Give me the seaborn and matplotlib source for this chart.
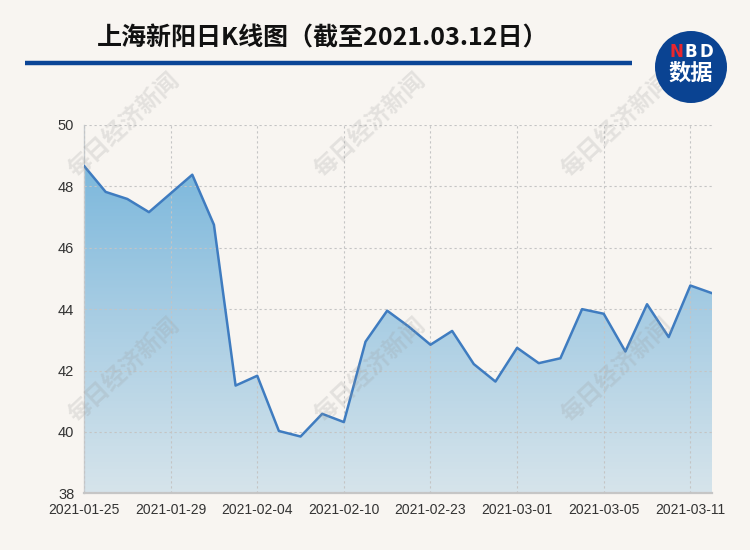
import numpy as np
import pandas as pd
import matplotlib
matplotlib.use("Agg")
import matplotlib.pyplot as plt
import seaborn as sns
from matplotlib.colors import LinearSegmentedColormap
from matplotlib.patches import Circle, Polygon

# ---------------- data ----------------
dates = ['2021-01-25', '2021-01-26', '2021-01-27', '2021-01-28', '2021-01-29',
         '2021-02-01', '2021-02-02', '2021-02-03', '2021-02-04', '2021-02-05',
         '2021-02-08', '2021-02-09', '2021-02-10', '2021-02-18', '2021-02-19',
         '2021-02-22', '2021-02-23', '2021-02-24', '2021-02-25', '2021-02-26',
         '2021-03-01', '2021-03-02', '2021-03-03', '2021-03-04', '2021-03-05',
         '2021-03-08', '2021-03-09', '2021-03-10', '2021-03-11', '2021-03-12']
close = [48.67, 47.82, 47.59, 47.16, 47.77, 48.38, 46.75, 41.51, 41.83, 40.03,
         39.85, 40.59, 40.32, 42.94, 43.95, 43.43, 42.84, 43.29, 42.21, 41.64,
         42.74, 42.24, 42.40, 44.00, 43.85, 42.62, 44.16, 43.09, 44.77, 44.52]
y_ticks = [38, 40, 42, 44, 46, 48, 50]
title = "上海新阳日K线图（截至2021.03.12日）"
watermark = "每日经济新闻"

# ---------------- style ----------------
sns.set_theme(style="white")
plt.rcParams['font.family'] = ['Noto Sans CJK SC', 'DejaVu Sans']
BG = '#f8f5f1'

df = pd.DataFrame({'idx': np.arange(len(dates)), 'date': dates, 'close': close})

fig = plt.figure(figsize=(7.5, 5.5), dpi=100, facecolor=BG)
ax = fig.add_axes([84 / 750, 1 - 493.3 / 550, (712 - 84) / 750, (493.3 - 125) / 550])
ax.set_facecolor(BG)

ymin, ymax = 38, 50
xmax = len(dates) - 1

# gradient fill clipped to the area under the line
cmap = LinearSegmentedColormap.from_list('g', ['#d6e4eb', '#a6cce3', '#70b2da'])
grad = np.linspace(0, 1, 256).reshape(-1, 1)
im = ax.imshow(grad, extent=[0, xmax, ymin, ymax], origin='lower', cmap=cmap,
               aspect='auto', zorder=1)
verts = [(0, ymin)] + list(zip(df['idx'], df['close'])) + [(xmax, ymin)]
poly = Polygon(verts, closed=True, facecolor='none', edgecolor='none')
ax.add_patch(poly)
im.set_clip_path(poly)

sns.lineplot(data=df, x='idx', y='close', ax=ax, color='#3f7cc0', linewidth=1.8,
             zorder=3)

ax.set_xlim(0, xmax)
ax.set_ylim(ymin, ymax)
tick_pos = list(range(0, len(dates), 4))
ax.set_xticks(tick_pos)
ax.set_xticklabels([dates[i] for i in tick_pos])
ax.set_yticks(y_ticks)
ax.set_yticklabels([str(v) for v in y_ticks])
ax.set_xlabel('')
ax.set_ylabel('')
tick_font = ['Liberation Sans Narrow', 'Liberation Sans', 'DejaVu Sans']
for lab in ax.get_xticklabels():
    lab.set_family(tick_font)
    lab.set_fontsize(10)
    lab.set_color('#333333')
for lab in ax.get_yticklabels():
    lab.set_family(tick_font)
    lab.set_fontsize(10.5)
    lab.set_color('#333333')
ax.tick_params(axis='x', length=0, pad=7)
ax.tick_params(axis='y', length=0, pad=7)

ax.grid(True, color='#c4c4c4', linestyle=(0, (2, 2.5)), linewidth=0.8, zorder=2)
ax.set_axisbelow(False)
for gl in ax.get_xgridlines() + ax.get_ygridlines():
    gl.set_zorder(2)
for s in ['top', 'right']:
    ax.spines[s].set_visible(False)
ax.spines['left'].set_color('#c8cdd2')
ax.spines['left'].set_linewidth(1.0)
ax.spines['bottom'].set_color('#c6c6c6')
ax.spines['bottom'].set_linewidth(1.6)

# ---------------- overlay (title, rule, logo, watermarks) ----------------
ov = fig.add_axes([0, 0, 1, 1], facecolor='none')
ov.set_xlim(0, 750)
ov.set_ylim(550, 0)
ov.axis('off')

ov.text(323, 38, title, ha='center', va='center', fontsize=18, fontweight='bold',
        color='#111111')
ov.plot([25, 632], [63, 63], color='#0b4596', linewidth=3.2, solid_capstyle='butt')

for cx, cy in [(124, 125), (370, 125), (617, 125), (124, 370), (370, 370), (617, 370)]:
    ov.text(cx, cy, watermark, ha='center', va='center', rotation=43,
            fontsize=17, fontweight='bold', color='#9a9a9a', alpha=0.22, zorder=5)

ov.add_patch(Circle((691, 67), 36, facecolor='#0a4392', edgecolor='none', zorder=10))
ov.text(676, 52, 'N', ha='center', va='center', fontsize=12, fontweight='bold',
        color='#e8262d', zorder=11, family=['DejaVu Sans'])
ov.text(691, 52, 'B', ha='center', va='center', fontsize=12, fontweight='bold',
        color='white', zorder=11, family=['DejaVu Sans'])
ov.text(706, 52, 'D', ha='center', va='center', fontsize=12, fontweight='bold',
        color='white', zorder=11, family=['DejaVu Sans'])
ov.text(691, 73, '数据', ha='center', va='center', fontsize=16, fontweight='bold',
        color='white', zorder=11)

fig.savefig('out.png', dpi=100, facecolor=BG)
